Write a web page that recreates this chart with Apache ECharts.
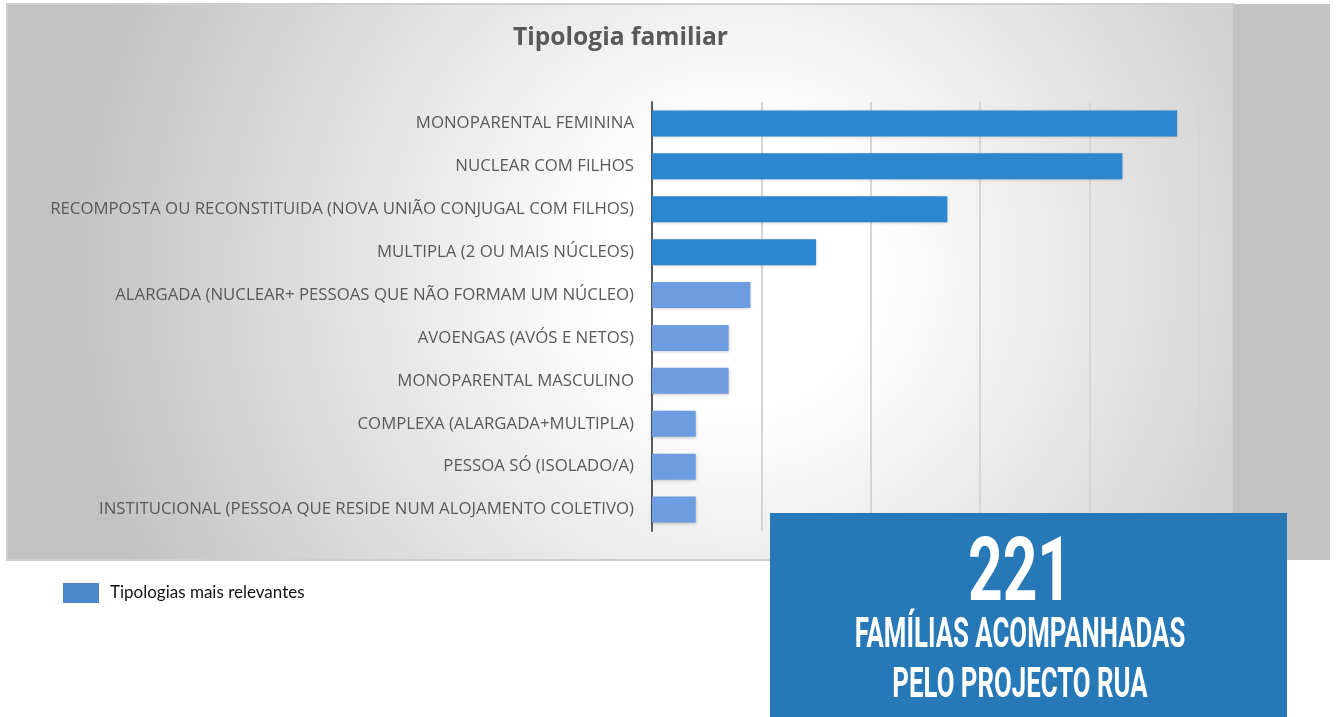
<!DOCTYPE html>
<html><head><meta charset="utf-8">
<script src="https://cdn.jsdelivr.net/npm/echarts@6/dist/echarts.min.js"></script>
<style>html,body{margin:0;padding:0;background:#fff}#c{width:1337px;height:717px}</style>
</head><body><div id="c"></div>
<script>
const categories = [
  "MONOPARENTAL FEMININA",
  "NUCLEAR COM FILHOS",
  "RECOMPOSTA OU RECONSTITUIDA (NOVA UNIÃO CONJUGAL COM FILHOS)",
  "MULTIPLA (2 OU MAIS NÚCLEOS)",
  "ALARGADA (NUCLEAR+ PESSOAS QUE NÃO FORMAM UM NÚCLEO)",
  "AVOENGAS (AVÓS E NETOS)",
  "MONOPARENTAL MASCULINO",
  "COMPLEXA (ALARGADA+MULTIPLA)",
  "PESSOA SÓ (ISOLADO/A)",
  "INSTITUCIONAL (PESSOA QUE RESIDE NUM ALOJAMENTO COLETIVO)"
];
const values = [48, 43, 27, 15, 9, 7, 7, 4, 4, 4];
const highlightCount = 4;
const seriesName = "Tipologias mais relevantes";
const titleText = "Tipologia familiar";
const boxNumber = "221";
const boxLine1 = "FAMÍLIAS ACOMPANHADAS";
const boxLine2 = "PELO PROJECTO RUA";

const boxFont = 'Roboto';
const chart = echarts.init(document.getElementById('c'), null, {renderer: 'canvas'});
chart.setOption({
  animation: false,
  backgroundColor: '#ffffff',
  title: {
    text: titleText, left: 508, top: 20,
    textStyle: {fontFamily: 'Open Sans', fontWeight: 'bold', fontSize: 24.6, color: '#595959'}
  },
  legend: {
    data: [{name: seriesName, itemStyle: {color: '#4a86c8'}}],
    left: 58, top: 578, itemWidth: 36, itemHeight: 20,
    icon: 'rect',
    textStyle: {fontFamily: 'Lato', fontSize: 17, color: '#111', padding: [4, 0, 0, 6]}
  },
  grid: {left: 652, right: 138, top: 102, height: 429, containLabel: false},
  xAxis: {
    type: 'value', min: 0, max: 50, interval: 10,
    axisLabel: {show: false}, axisTick: {show: false}, axisLine: {show: false},
    splitLine: {show: true, lineStyle: {color: '#d6d6d6', width: 2}}
  },
  yAxis: {
    type: 'category', data: categories, inverse: true,
    axisLine: {show: true, lineStyle: {color: '#595959', width: 2}},
    axisTick: {show: false},
    axisLabel: {fontFamily: 'Open Sans', fontSize: 16.8, color: '#595959', margin: 18}
  },
  graphic: [
    {type: 'rect', z: -10, silent: true, shape: {x: 7, y: 4, width: 1226, height: 556},
     style: {fill: new echarts.graphic.RadialGradient(740, 270, 680, [
       {offset: 0, color: '#ffffff'}, {offset: 0.2, color: '#ffffff'}, {offset: 1, color: '#c2c2c2'}], true),
       stroke: '#cfcfcf', lineWidth: 2}},
    {type: 'rect', z: -9, silent: true, shape: {x: 1233, y: 4, width: 97, height: 556},
     style: {fill: '#c3c3c3'}},
    {type: 'rect', z: 100, silent: true, shape: {x: 770, y: 513, width: 517, height: 204},
     style: {fill: '#2678b6'}},
    {type: 'text', z: 101, silent: true, x: 1020, y: 578, scaleX: 0.68,
     style: {text: boxNumber, fill: '#fff', fontFamily: boxFont, fontWeight: 'bold', fontSize: 89, align: 'center', verticalAlign: 'middle'}},
    {type: 'text', z: 101, silent: true, x: 1020, y: 636, scaleX: 0.6,
     style: {text: boxLine1, fill: '#fff', fontFamily: boxFont, fontWeight: 'bold', fontSize: 43, align: 'center', verticalAlign: 'middle'}},
    {type: 'text', z: 101, silent: true, x: 1020, y: 686, scaleX: 0.6,
     style: {text: boxLine2, fill: '#fff', fontFamily: boxFont, fontWeight: 'bold', fontSize: 43, align: 'center', verticalAlign: 'middle'}}
  ],
  series: [{
    name: seriesName, type: 'bar', data: values, barWidth: 26,
    itemStyle: {
      color: p => p.dataIndex < highlightCount ? '#2a87d0' : '#6d9de0',
      shadowColor: 'rgba(0,0,0,0.25)', shadowBlur: 3, shadowOffsetY: 1
    }
  }]
});
</script></body></html>
